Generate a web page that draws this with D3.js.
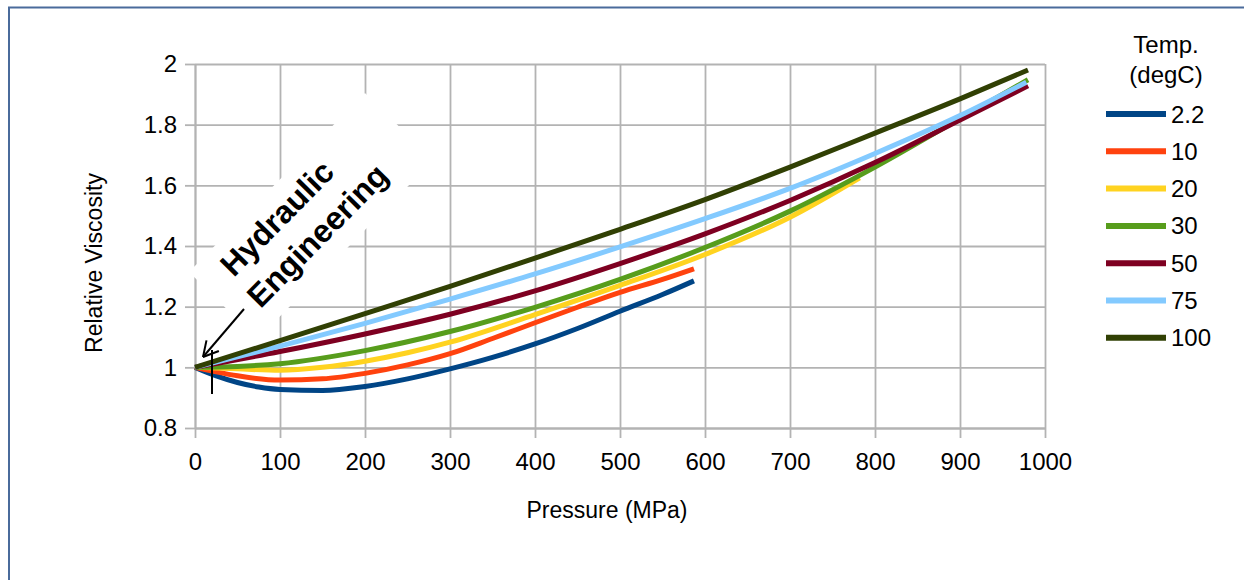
<!DOCTYPE html>
<html>
<head>
<meta charset="utf-8">
<script src="https://cdn.jsdelivr.net/npm/d3@7/dist/d3.min.js"></script>
<style>
  body { margin: 0; background: #fff; }
  svg { display: block; font-family: "Liberation Sans", Arial, sans-serif; }
</style>
</head>
<body>
<svg id="chart"></svg>
<script>
// series (Temp. degC) and their readings
var temps = ["2.2", "10", "20", "30", "50", "75", "100"];
var colors = ["#004586", "#ff420e", "#ffd320", "#579d1c", "#7e0021", "#83caff", "#314004"];

var p22 = [0, 25, 50, 75, 100, 150, 200, 250, 300, 350, 400, 450, 500, 550, 587];
var v22 = [1.0, 0.972, 0.95, 0.935, 0.927, 0.924, 0.937, 0.962, 0.995, 1.033, 1.077, 1.128, 1.185, 1.24, 1.285];
var p10 = [0, 25, 50, 100, 150, 200, 250, 300, 350, 400, 450, 500, 550, 587];
var v10 = [1.0, 0.985, 0.972, 0.958, 0.962, 0.98, 1.008, 1.045, 1.095, 1.147, 1.198, 1.247, 1.29, 1.325];
var p20 = [0, 50, 100, 150, 200, 250, 300, 400, 500, 600, 700, 782];
var v20 = [1.0, 0.995, 0.99, 1.0, 1.02, 1.048, 1.083, 1.174, 1.27, 1.372, 1.495, 1.625];
var p30 = [0, 50, 100, 200, 300, 400, 500, 600, 700, 800, 900, 980];
var v30 = [1.0, 1.003, 1.012, 1.055, 1.118, 1.198, 1.29, 1.395, 1.515, 1.66, 1.82, 1.948];
var p50 = [0, 100, 200, 300, 400, 500, 600, 700, 800, 900, 980];
var v50 = [1.0, 1.052, 1.11, 1.175, 1.252, 1.342, 1.44, 1.55, 1.675, 1.815, 1.928];
var p75 = [0, 100, 200, 300, 400, 500, 600, 700, 800, 900, 978];
var v75 = [1.0, 1.07, 1.145, 1.225, 1.308, 1.397, 1.49, 1.59, 1.705, 1.83, 1.94];
var p100 = [0, 100, 200, 300, 400, 500, 600, 700, 800, 900, 980];
var v100 = [1.0, 1.088, 1.177, 1.267, 1.36, 1.455, 1.553, 1.66, 1.772, 1.885, 1.98];

var pressures = [p22, p10, p20, p30, p50, p75, p100];
var viscos = [v22, v10, v20, v30, v50, v75, v100];

var xTicks = [0, 100, 200, 300, 400, 500, 600, 700, 800, 900, 1000];
var yTicks = [0.8, 1, 1.2, 1.4, 1.6, 1.8, 2];

var W = 1244, H = 580;
var plotL = 195, plotR = 1045, plotT = 64, plotB = 428;
var gridColor = "#b3b3b3";

var svg = d3.select("#chart").attr("width", W).attr("height", H);

// outer frame
svg.append("rect")
  .attr("x", 9).attr("y", 7.5)
  .attr("width", W + 20).attr("height", H + 20)
  .attr("fill", "#fff")
  .attr("stroke", "#4a6b9b").attr("stroke-width", 2);

var x = d3.scaleLinear().domain([0, 1000]).range([plotL, plotR]);
var y = d3.scaleLinear().domain([0.8, 2]).range([plotB, plotT]);

// grid
svg.append("g")
  .attr("transform", "translate(0," + plotB + ")")
  .call(d3.axisBottom(x).tickValues(xTicks).tickSize(-(plotB - plotT)).tickFormat(""))
  .call(function(g) { g.select(".domain").remove(); });
svg.append("g")
  .attr("transform", "translate(" + plotL + ",0)")
  .call(d3.axisLeft(y).tickValues(yTicks).tickSize(-(plotR - plotL)).tickFormat(""))
  .call(function(g) { g.select(".domain").remove(); });

// axes
var xAxis = svg.append("g")
  .attr("transform", "translate(0," + plotB + ")")
  .call(d3.axisBottom(x).tickValues(xTicks).tickSize(10).tickSizeOuter(0).tickPadding(15)
    .tickFormat(function(d) { return String(d); }));
var yAxis = svg.append("g")
  .attr("transform", "translate(" + plotL + ",0)")
  .call(d3.axisLeft(y).tickValues(yTicks).tickSize(10).tickSizeOuter(0).tickPadding(8)
    .tickFormat(function(d) { return String(+d.toFixed(1)); }));

svg.selectAll("line, .domain")
  .attr("stroke", gridColor).attr("stroke-width", 1.8);
[xAxis, yAxis].forEach(function(a) {
  a.selectAll("text").attr("font-size", 24).attr("fill", "#000")
    .attr("font-family", "Liberation Sans, Arial, sans-serif");
});

// white box behind annotation (hides grid)
var theta = 45.5;
var note = svg.append("g").attr("transform", "translate(189,272) rotate(" + (-theta) + ")");
note.append("rect")
  .attr("x", 0).attr("y", 0).attr("width", 251).attr("height", 96)
  .attr("fill", "#fff");

// curves
var line = d3.line()
  .x(function(d) { return x(d[0]); })
  .y(function(d) { return y(d[1]); })
  .curve(d3.curveMonotoneX);

temps.forEach(function(t, i) {
  var pts = pressures[i].map(function(p, j) { return [p, viscos[i][j]]; });
  svg.append("path")
    .datum(pts)
    .attr("d", line)
    .attr("fill", "none")
    .attr("stroke", colors[i])
    .attr("stroke-width", 5)
    .attr("stroke-linejoin", "round");
});

// annotation text
note.append("text")
  .attr("x", 100).attr("y", 36)
  .attr("text-anchor", "middle")
  .attr("font-size", 32).attr("font-weight", "bold")
  .text("Hydraulic");
note.append("text")
  .attr("x", 116).attr("y", 77)
  .attr("text-anchor", "middle")
  .attr("font-size", 32).attr("font-weight", "bold")
  .text("Engineering");

// arrow
var tip = [203, 357], tail = [244, 309];
var ang = Math.atan2(tail[1] - tip[1], tail[0] - tip[0]);
svg.append("line")
  .attr("x1", tail[0]).attr("y1", tail[1]).attr("x2", tip[0]).attr("y2", tip[1])
  .attr("stroke", "#000").attr("stroke-width", 2);
[-0.5, 0.5].forEach(function(da) {
  svg.append("line")
    .attr("x1", tip[0]).attr("y1", tip[1])
    .attr("x2", tip[0] + 17 * Math.cos(ang + da))
    .attr("y2", tip[1] + 17 * Math.sin(ang + da))
    .attr("stroke", "#000").attr("stroke-width", 2);
});
svg.append("line")
  .attr("x1", 212).attr("y1", 350).attr("x2", 212).attr("y2", 394)
  .attr("stroke", "#000").attr("stroke-width", 2);

// axis titles
svg.append("text")
  .attr("x", 607).attr("y", 518)
  .attr("text-anchor", "middle")
  .attr("font-size", 23)
  .text("Pressure (MPa)");
svg.append("text")
  .attr("transform", "translate(102,263) rotate(-90)")
  .attr("text-anchor", "middle")
  .attr("font-size", 23)
  .text("Relative Viscosity");

// legend
var lg = svg.append("g");
lg.append("text").attr("x", 1166).attr("y", 53).attr("text-anchor", "middle")
  .attr("font-size", 24).text("Temp.");
lg.append("text").attr("x", 1166).attr("y", 83).attr("text-anchor", "middle")
  .attr("font-size", 24).text("(degC)");
temps.forEach(function(t, i) {
  var ly = 114 + i * 37.3;
  lg.append("line")
    .attr("x1", 1106).attr("x2", 1166).attr("y1", ly).attr("y2", ly)
    .attr("stroke", colors[i]).attr("stroke-width", 6);
  lg.append("text")
    .attr("x", 1171).attr("y", ly + 8.5)
    .attr("font-size", 24)
    .text(t);
});
</script>
</body>
</html>
